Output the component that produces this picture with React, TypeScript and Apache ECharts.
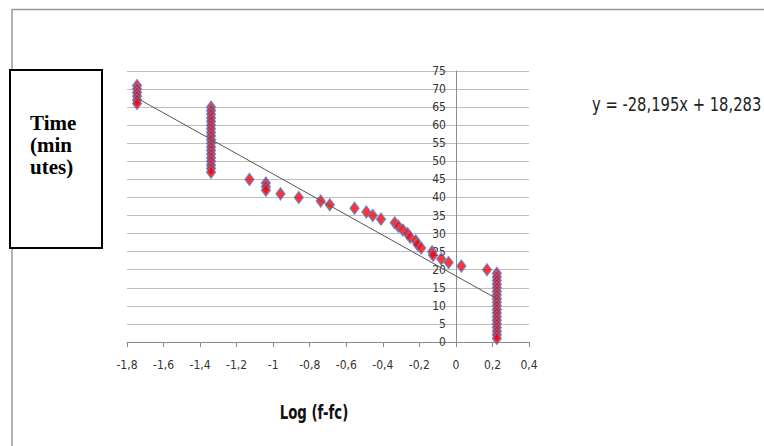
import React, { useEffect, useRef } from "react";
import * as echarts from "echarts";

// Scatter points: [log(f-fc), time in minutes]
const columnLeftX = -1.745;
const columnLeftY = [71, 70, 69, 68, 67, 66];
const columnMidX = -1.34;
const columnMidY = [65, 64, 63, 62, 61, 60, 59, 58, 57, 56, 55, 54, 53, 52, 51, 50, 49, 48, 47];
const scatterX = [-1.13, -1.04, -1.04, -1.04, -0.96, -0.86, -0.74, -0.69, -0.555, -0.49, -0.455, -0.41, -0.335, -0.315, -0.29, -0.265, -0.25, -0.22, -0.21, -0.19, -0.13, -0.125, -0.08, -0.04, 0.03, 0.17];
const scatterY = [45, 44, 43, 42, 41, 40, 39, 38, 37, 36, 35, 34, 33, 32, 31, 30, 29, 28, 27, 26, 25, 24, 23, 22, 21, 20];
const columnRightX = 0.224;
const columnRightY = [19, 18, 17, 16, 15, 14, 13, 12, 11, 10, 9, 8, 7, 6, 5, 4, 3, 2, 1];

// Trendline from the printed equation
const slope = -28.195;
const intercept = 18.283;
const equationText = "y = -28,195x + 18,283";

const xTicks = { min: -1.8, max: 0.4, interval: 0.2 };
const yTicks = { min: 0, max: 75, interval: 5 };

const yTitleLines = ["Time", "(min", "utes)"];
const xTitle = "Log (f-fc)";

export default function App() {
  const ref = useRef<HTMLDivElement>(null);
  useEffect(() => {
    if (!ref.current) return;
    const chart = echarts.init(ref.current, undefined, { renderer: "svg" });
    const points: number[][] = [];
    columnLeftY.forEach((y) => points.push([columnLeftX, y]));
    columnMidY.forEach((y) => points.push([columnMidX, y]));
    scatterX.forEach((x, i) => points.push([x, scatterY[i]]));
    columnRightY.forEach((y) => points.push([columnRightX, y]));
    const xs = points.map((p) => p[0]);
    const x0 = Math.min(...xs);
    const x1 = Math.max(...xs);
    const trend = [
      [x0, slope * x0 + intercept],
      [x1, slope * x1 + intercept],
    ];
    const narrow = "'Liberation Sans Narrow', 'DejaVu Sans Condensed', 'Roboto', sans-serif";
    const gridLeft = 127;
    const gridRight = 235;
    const gridW = 764 - gridLeft - gridRight;
    // y axis sits at x = 0: offset from the grid's right edge
    const zeroOffset = -((xTicks.max - 0) / (xTicks.max - xTicks.min)) * gridW;
    chart.setOption({
      animation: false,
      backgroundColor: "#ffffff",
      grid: { left: gridLeft, right: gridRight, top: 71, bottom: 104 },
      xAxis: {
        type: "value",
        min: xTicks.min,
        max: xTicks.max,
        interval: xTicks.interval,
        axisLine: { show: true, onZero: false, lineStyle: { color: "#8c8c8c", width: 1 } },
        axisTick: { show: true, length: 5, lineStyle: { color: "#8c8c8c" } },
        axisLabel: {
          margin: 17,
          fontFamily: narrow,
          fontSize: 12,
          color: "#333",
          formatter: (v: number) => String(Math.round(v * 10) / 10).replace(".", ","),
        },
        splitLine: { show: false },
      },
      yAxis: {
        type: "value",
        position: "right",
        offset: zeroOffset,
        min: yTicks.min,
        max: yTicks.max,
        interval: yTicks.interval,
        axisLine: { show: true, onZero: false, lineStyle: { color: "#8c8c8c", width: 1 } },
        axisTick: { show: false },
        axisLabel: { inside: true, margin: 10, fontFamily: narrow, fontSize: 12, color: "#333" },
        splitLine: { show: true, lineStyle: { color: "#bdbdbd", width: 1 } },
      },
      series: [
        {
          type: "scatter",
          data: points,
          symbol: "diamond",
          symbolSize: [9, 12],
          itemStyle: { color: "#ff0000", borderColor: "#5b7fc6", borderWidth: 1.3 },
          z: 3,
        },
        {
          type: "line",
          data: trend,
          symbol: "none",
          lineStyle: { color: "#555555", width: 1 },
          z: 4,
        },
      ],
      graphic: [
        {
          type: "rect",
          z: -10,
          shape: { x: 12, y: 9.5, width: 800, height: 500 },
          style: { fill: "none", stroke: "#999999", lineWidth: 1.5 },
        },
        {
          type: "rect",
          z: 10,
          shape: { x: 10, y: 70, width: 92, height: 178 },
          style: { fill: "#ffffff", stroke: "#000000", lineWidth: 2 },
        },
        {
          type: "text",
          z: 11,
          x: 30,
          y: 112,
          style: {
            text: yTitleLines.join("\n"),
            fontFamily: "'Liberation Serif', 'Times New Roman', serif",
            fontWeight: "bold",
            fontSize: 21,
            lineHeight: 22,
            fill: "#000",
          },
        },
        {
          type: "text",
          x: 592,
          y: 104,
          scaleX: 0.82,
          style: {
            text: equationText,
            fontFamily: narrow,
            fontSize: 20,
            fill: "#222",
            verticalAlign: "middle",
          },
        },
        {
          type: "text",
          x: 314,
          y: 412,
          scaleX: 0.78,
          style: {
            text: xTitle,
            fontFamily: narrow,
            fontWeight: "bold",
            fontSize: 19,
            fill: "#111",
            align: "center",
            verticalAlign: "middle",
          },
        },
      ],
    });
    return () => chart.dispose();
  }, []);
  return (
    <div
      ref={ref}
      style={{ position: "fixed", left: 0, top: 0, width: 764, height: 446 }}
    />
  );
}
